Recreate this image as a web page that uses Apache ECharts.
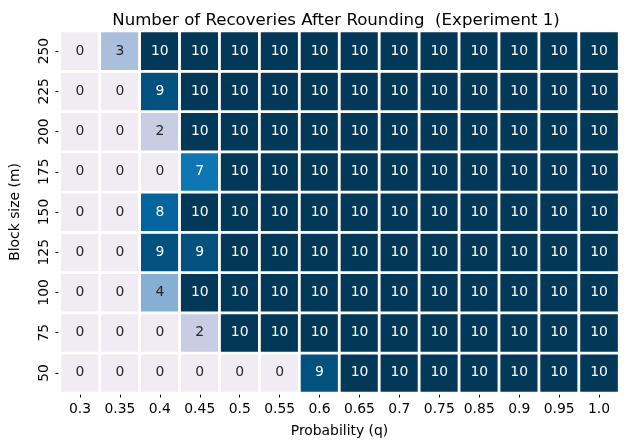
<!DOCTYPE html>
<html>
<head>
<meta charset="utf-8">
<script src="https://cdn.jsdelivr.net/npm/echarts@6/dist/echarts.min.js"></script>
<style>
html,body{margin:0;padding:0;background:#fff;}
#chart{width:630px;height:447px;}
</style>
</head>
<body>
<div id="chart"></div>
<script>
const xCategories = ['0.3','0.35','0.4','0.45','0.5','0.55','0.6','0.65','0.7','0.75','0.85','0.9','0.95','1.0'];
const yCategories = ['50','75','100','125','150','175','200','225','250'];
// rows from bottom (50) to top (250)
const row50  = [0,0,0,0,0,0,9,10,10,10,10,10,10,10];
const row75  = [0,0,0,2,10,10,10,10,10,10,10,10,10,10];
const row100 = [0,0,4,10,10,10,10,10,10,10,10,10,10,10];
const row125 = [0,0,9,9,10,10,10,10,10,10,10,10,10,10];
const row150 = [0,0,8,10,10,10,10,10,10,10,10,10,10,10];
const row175 = [0,0,0,7,10,10,10,10,10,10,10,10,10,10];
const row200 = [0,0,2,10,10,10,10,10,10,10,10,10,10,10];
const row225 = [0,0,9,10,10,10,10,10,10,10,10,10,10,10];
const row250 = [0,3,10,10,10,10,10,10,10,10,10,10,10,10];
const rows = [row50,row75,row100,row125,row150,row175,row200,row225,row250];

const pubu = ['#fff7fb','#ece7f2','#d0d1e6','#a6bddb','#74a9cf','#3690c0','#0570b0','#045a8d','#023858'];

const data = [];
rows.forEach((r, yi) => r.forEach((v, xi) => {
  data.push({value: [xi, yi, v], label: {color: v >= 5 ? '#ffffff' : '#262626'}});
}));

const font = 'DejaVu Sans';
const chart = echarts.init(document.getElementById('chart'), null, {renderer: 'canvas'});
chart.setOption({
  animation: false,
  backgroundColor: '#fff',
  title: {
    text: 'Number of Recoveries After Rounding  (Experiment 1)',
    left: 331, top: 7, textAlign: 'center',
    textStyle: {fontFamily: font, fontSize: 16.6, fontWeight: 'normal', color: '#000'}
  },
  grid: {left: 54, right: 11, top: 31, bottom: 54},
  xAxis: {
    type: 'category', data: xCategories,
    name: 'Probability (q)', nameLocation: 'middle', nameGap: 31,
    nameTextStyle: {fontFamily: font, fontSize: 13.9, color: '#000'},
    axisLine: {show: false},
    axisTick: {show: true, alignWithLabel: true, interval: 0, length: 4.5, lineStyle: {color: '#000', width: 1}},
    axisLabel: {fontFamily: font, fontSize: 13.9, color: '#000', margin: 9, interval: 0, hideOverlap: false},
    splitArea: {show: false}
  },
  yAxis: {
    type: 'category', data: yCategories,
    name: 'Block size (m)', nameLocation: 'middle', nameGap: 38,
    nameTextStyle: {fontFamily: font, fontSize: 13.9, color: '#000'},
    axisLine: {show: false},
    axisTick: {show: true, alignWithLabel: true, interval: 0, length: 4.5, lineStyle: {color: '#000', width: 1}},
    axisLabel: {fontFamily: font, fontSize: 13.9, color: '#000', rotate: 90, margin: 9, interval: 0},
    splitArea: {show: false}
  },
  visualMap: {
    show: false, type: 'continuous', min: -1, max: 10, dimension: 2,
    inRange: {color: pubu}
  },
  series: [{
    type: 'heatmap',
    data: data,
    label: {show: true, fontFamily: font, fontSize: 13.9},
    itemStyle: {borderColor: '#fff', borderWidth: 2.8}
  }]
});
</script>
</body>
</html>
